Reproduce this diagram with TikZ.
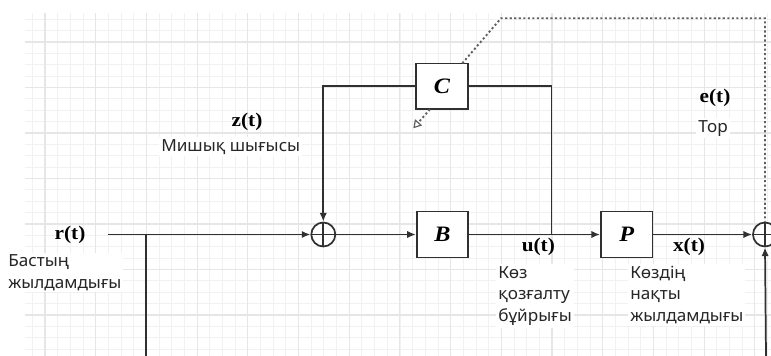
\documentclass[tikz,border=0pt]{standalone}
\usepackage{fontspec}
\setmainfont{Liberation Serif}[FakeStretch=1.1]
\newfontfamily\lblfont{Noto Sans}[FakeStretch=1.03]
\usetikzlibrary{arrows.meta}
\definecolor{ln}{HTML}{303030}
\definecolor{dotc}{HTML}{5F5F5F}
\definecolor{gmin}{HTML}{F1F1F1}
\definecolor{gmaj}{HTML}{E6E6E6}
\begin{document}
\begin{tikzpicture}[x=0.75pt,y=-0.75pt,
 conn/.style={draw=ln,line width=1.3pt},
 arr/.style={conn,-{Latex[length=6.5pt,width=5.5pt]}},
 blk/.style={draw=ln,line width=1.3pt,fill=white,minimum width=38.7pt,minimum height=34.3pt,inner sep=0pt,font=\fontsize{16.5}{18}\selectfont\bfseries\itshape},
 sumc/.style={circle,draw=ln,line width=1.3pt,fill=white,minimum size=18pt,inner sep=0pt,
   path picture={\draw[ln,line width=1.3pt] (path picture bounding box.north)--(path picture bounding box.south) (path picture bounding box.west)--(path picture bounding box.east);}},
 sig/.style={font=\fontsize{14.5}{16}\selectfont\bfseries,inner sep=0pt},
 desc/.style={font=\lblfont\fontsize{12.5}{16.2}\selectfont,align=left,fill=white,inner sep=1.5pt,text=black!85},
 dotl/.style={draw=dotc,line width=1.4pt,dash pattern=on 1.6pt off 1.8pt},
]
\useasboundingbox (0,0) rectangle (771,356);
% grid
\begin{scope}
\clip (25,13) rectangle (771,356);
\foreach \k in {-2,...,57} \draw[gmin,line width=0.6pt] ({45+12.675*\k},13) -- ({45+12.675*\k},356);
\foreach \k in {-3,...,30} \draw[gmin,line width=0.6pt] (25,{42+11.375*\k}) -- (771,{42+11.375*\k});
\foreach \k in {0,...,14} \draw[gmaj,line width=0.8pt] ({45+50.7*\k},13) -- ({45+50.7*\k},356);
\foreach \k in {0,...,7} \draw[gmaj,line width=0.8pt] (25,{42+45.5*\k}) -- (771,{42+45.5*\k});
\end{scope}

% labels
\node[desc,anchor=west] (rd) at (6,272.5) {Бастың\\жылдамдығы};
\node[desc,anchor=west] (zd) at (159,146.7) {Мишық шығысы};
\node[desc] (ed) at (713,128.3) {Тор};
\node[desc,anchor=west] (ud) at (496,296) {Көз\\қозғалту\\бұйрығы};
\node[desc,anchor=west] (xd) at (628,295) {Көздің\\нақты\\жылдамдығы};
\node[sig] (rl) at (70,235) {r(t)};
\node[sig] (zl) at (247,122.3) {z(t)};
\node[sig] (el) at (715,98.3) {e(t)};
\node[sig] (ul) at (538.3,247.3) {u(t)};
\node[sig] (xl) at (689,247) {x(t)};

% blocks
\node[blk] (C) at (442,86.3) {C};
\node[blk] (B) at (442.5,234.5) {B};
\node[blk] (P) at (626.7,234.5) {P};
\node[sumc] (S1) at (323.3,234.5) {};
\node[sumc] (S2) at (765,234.5) {};

% coordinates
\coordinate (rin) at (108,234.5);
\coordinate (br) at (146,234.5);
\coordinate (brbot) at (146,356);
\coordinate (uj) at (551.5,234.5);
\coordinate (s2bot) at (766,356);
\coordinate (dA) at (462.3,63.3);
\coordinate (d1) at (501,18.3);
\coordinate (d2) at (765,18.3);
\coordinate (dB) at (430,109.3);
\coordinate (dtip) at (413.3,128.3);

% connectors
\draw[arr] (rin) -- (S1.west);
\draw[conn] (br) -- (brbot);
\draw[arr] (S1.east) -- (B.west);
\draw[arr] (B.east) -- (P.west);
\draw[conn] (uj) |- (C.east);
\draw[arr] (C.west) -| (S1.north);
\draw[arr] (P.east) -- (S2.west);
\draw[arr] (s2bot) -- (S2.south);
\draw[dotl] (dA) -- (d1) -- (d2) -- (S2.north);
\draw[dotl,-{Triangle[open,length=6pt,width=7pt,line width=0.9pt,fill=white]}] (dB) -- (dtip);
\end{tikzpicture}
\end{document}
